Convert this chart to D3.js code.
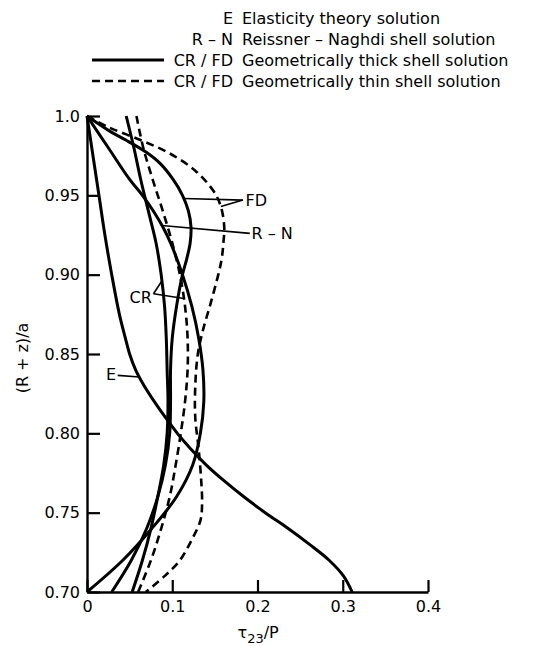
<!DOCTYPE html>
<html>
<head>
<meta charset="utf-8">
<script src="https://cdn.jsdelivr.net/npm/d3@7/dist/d3.min.js"></script>
<style>
  body { margin: 0; background: #fff; }
  svg { display: block; }
  text { font-family: "DejaVu Sans", sans-serif; fill: #000; }
</style>
</head>
<body>
<svg id="chart" width="538" height="646"></svg>
<script>
// Axis ticks
const xTicks = [0, 0.1, 0.2, 0.3, 0.4];
const xTickLabels = ["0", "0.1", "0.2", "0.3", "0.4"];
const yTicks = [0.70, 0.75, 0.80, 0.85, 0.90, 0.95, 1.0];
const yTickLabels = ["0.70", "0.75", "0.80", "0.85", "0.90", "0.95", "1.0"];

// Shear stress profiles through the thickness: [ (R+z)/a , tau23/P ]
const elasticity = [[1.00,0],[0.975,0.007],[0.95,0.014],[0.925,0.021],[0.90,0.029],[0.875,0.038],[0.86,0.045],[0.85,0.050],[0.84,0.057],[0.83,0.067],[0.82,0.079],[0.81,0.092],[0.80,0.106],[0.79,0.122],[0.78,0.140],[0.77,0.161],[0.76,0.184],[0.75,0.209],[0.74,0.236],[0.73,0.261],[0.72,0.284],[0.71,0.301],[0.70,0.311]];
const reissnerNaghdi = [[1.00,0],[0.98,0.025],[0.96,0.050],[0.95,0.065],[0.94,0.078],[0.93,0.089],[0.92,0.098],[0.90,0.112],[0.88,0.123],[0.86,0.131],[0.84,0.136],[0.82,0.137],[0.80,0.133],[0.78,0.124],[0.76,0.105],[0.74,0.076],[0.72,0.042],[0.70,0]];
const crThick = [[1.00,0.046],[0.98,0.055],[0.96,0.063],[0.94,0.072],[0.92,0.081],[0.90,0.087],[0.88,0.091],[0.86,0.093],[0.84,0.094],[0.82,0.095],[0.80,0.094],[0.78,0.090],[0.76,0.083],[0.74,0.075],[0.72,0.065],[0.70,0.053]];
const fdThick = [[1.00,0],[0.99,0.028],[0.985,0.045],[0.977,0.070],[0.97,0.086],[0.96,0.101],[0.95,0.112],[0.94,0.119],[0.93,0.122],[0.92,0.121],[0.91,0.117],[0.90,0.112],[0.88,0.105],[0.86,0.100],[0.84,0.098],[0.82,0.098],[0.80,0.097],[0.78,0.092],[0.76,0.083],[0.74,0.070],[0.72,0.052],[0.70,0.029]];
const crThin = [[1.00,0.058],[0.98,0.066],[0.96,0.077],[0.94,0.089],[0.92,0.100],[0.90,0.109],[0.88,0.115],[0.86,0.118],[0.84,0.118],[0.82,0.115],[0.80,0.110],[0.78,0.104],[0.76,0.097],[0.74,0.087],[0.72,0.075],[0.70,0.060]];
const fdThin = [[1.00,0],[0.993,0.025],[0.985,0.062],[0.977,0.095],[0.966,0.126],[0.953,0.148],[0.943,0.157],[0.93,0.161],[0.92,0.160],[0.91,0.158],[0.90,0.154],[0.88,0.144],[0.865,0.136],[0.85,0.130],[0.83,0.127],[0.81,0.127],[0.79,0.131],[0.77,0.134],[0.755,0.135],[0.745,0.133],[0.733,0.123],[0.72,0.109],[0.71,0.091],[0.70,0.069]];

const solidSeries = [elasticity, reissnerNaghdi, crThick, fdThick];
const dashedSeries = [crThin, fdThin];

// Legend entries
const legendKeys = ["E", "R \u2013 N", "CR / FD", "CR / FD"];
const legendTexts = ["Elasticity theory solution", "Reissner \u2013 Naghdi shell solution",
                     "Geometrically thick shell solution", "Geometrically thin shell solution"];
const legendSwatch = [null, null, "solid", "dashed"];

// Curve labels with leader lines: label anchor [tau, depth], targets [series, depth]
const curveLabels = [
  { text: "FD", at: [0.186, 0.947], anchor: "start", from: [0.183, 0.947], targets: [[fdThick, 0.948], [fdThin, 0.943]] },
  { text: "R \u2013 N", at: [0.193, 0.926], anchor: "start", from: [0.191, 0.926], targets: [[reissnerNaghdi, 0.931]] },
  { text: "CR", at: [0.076, 0.886], anchor: "end", from: [0.078, 0.888], targets: [[crThick, 0.896], [crThin, 0.885]] },
  { text: "E", at: [0.034, 0.837], anchor: "end", from: [0.036, 0.8365], targets: [[elasticity, 0.8355]] }
];

const svg = d3.select("#chart");
const x = d3.scaleLinear().domain([0, 0.4]).range([87, 428]);
const y = d3.scaleLinear().domain([0.70, 1.0]).range([592, 116]);

// Axes
const yAxis = d3.axisLeft(y).tickValues(yTicks).tickFormat((d, i) => yTickLabels[i])
  .tickSizeInner(-13).tickSizeOuter(0).tickPadding(7);
const xAxis = d3.axisBottom(x).tickValues(xTicks).tickFormat((d, i) => xTickLabels[i])
  .tickSizeInner(-12).tickSizeOuter(0).tickPadding(9);

const gy = svg.append("g").attr("transform", `translate(${x(0)},0)`).call(yAxis);
const gx = svg.append("g").attr("transform", `translate(0,${y(0.70)})`).call(xAxis);
[gx, gy].forEach(g => {
  g.selectAll("path.domain").attr("stroke", "#000").attr("stroke-width", 2.4);
  g.selectAll(".tick line").attr("stroke", "#000").attr("stroke-width", 2.2);
  g.selectAll(".tick text").attr("font-size", 16).attr("font-family", "DejaVu Sans").attr("fill", "#000");
});

// Axis titles
svg.append("text")
  .attr("transform", `translate(22,${y(0.8475)}) rotate(-90)`)
  .attr("text-anchor", "middle").attr("dy", "0.36em").attr("font-size", 16)
  .text("(R + z)/a");

const xt = svg.append("text").attr("x", x(0.2) - 20).attr("y", 638).attr("font-size", 16);
xt.append("tspan").text("\u03c4");
xt.append("tspan").attr("font-size", 13).attr("dy", 5).text("23");
xt.append("tspan").attr("dy", -5).text("/P");

// Curves
const line = d3.line().x(d => x(d[1])).y(d => y(d[0])).curve(d3.curveCatmullRom.alpha(0.5));

svg.append("g").selectAll("path").data(solidSeries).join("path")
  .attr("d", line).attr("fill", "none").attr("stroke", "#000")
  .attr("stroke-width", 3).attr("stroke-linejoin", "round");

svg.append("g").selectAll("path").data(dashedSeries).join("path")
  .attr("d", line).attr("fill", "none").attr("stroke", "#000")
  .attr("stroke-width", 2.6).attr("stroke-dasharray", "8,5");

// Interpolated tau value of a series at a given depth
function tauAt(series, depth) {
  for (let i = 0; i < series.length - 1; i++) {
    const a = series[i], b = series[i + 1];
    if ((depth <= a[0] && depth >= b[0])) {
      const t = (depth - a[0]) / (b[0] - a[0]);
      return a[1] + t * (b[1] - a[1]);
    }
  }
  return series[series.length - 1][1];
}

// Curve labels and leaders
const lab = svg.append("g");
curveLabels.forEach(c => {
  c.targets.forEach(([s, d]) => {
    lab.append("line")
      .attr("x1", x(c.from[0])).attr("y1", y(c.from[1]))
      .attr("x2", x(tauAt(s, d))).attr("y2", y(d))
      .attr("stroke", "#000").attr("stroke-width", 1.6);
  });
  lab.append("text").attr("x", x(c.at[0])).attr("y", y(c.at[1])).attr("dy", "0.36em")
    .attr("text-anchor", c.anchor).attr("font-size", 16).text(c.text);
});

// Legend
const lg = svg.append("g");
legendKeys.forEach((k, i) => {
  const ly = 18 + i * 21;
  lg.append("text").attr("x", 233).attr("y", ly).attr("dy", "0.36em")
    .attr("text-anchor", "end").attr("font-size", 16).text(k);
  lg.append("text").attr("x", 242).attr("y", ly).attr("dy", "0.36em")
    .attr("font-size", 16).text(legendTexts[i]);
  if (legendSwatch[i]) {
    lg.append("line").attr("x1", 92).attr("x2", 164).attr("y1", ly).attr("y2", ly)
      .attr("stroke", "#000")
      .attr("stroke-width", legendSwatch[i] === "solid" ? 3 : 2.4)
      .attr("stroke-dasharray", legendSwatch[i] === "dashed" ? "8,5" : null);
  }
});
</script>
</body>
</html>
